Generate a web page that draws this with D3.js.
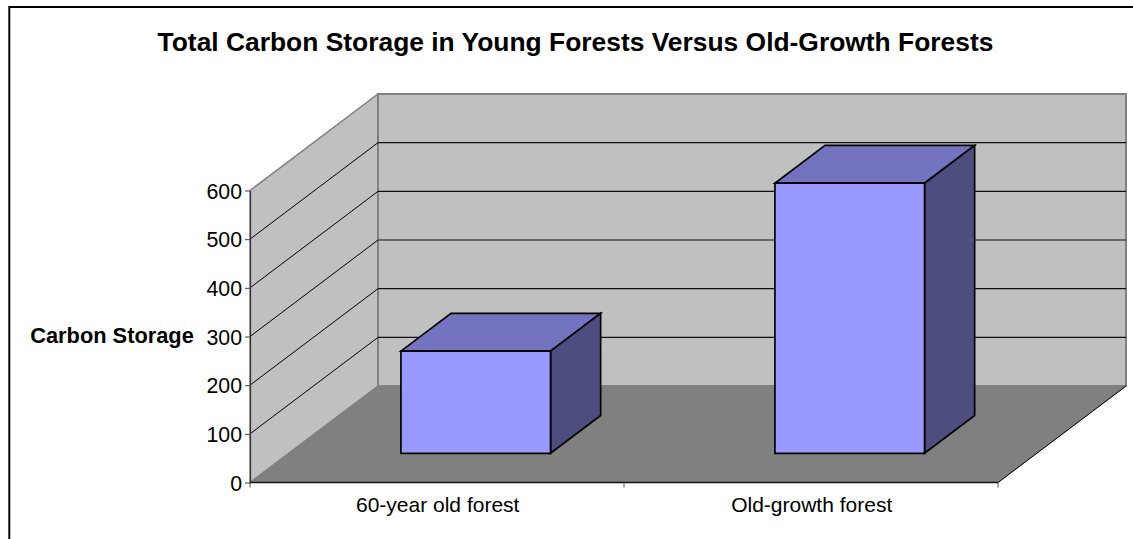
<!DOCTYPE html>
<html>
<head>
<meta charset="utf-8">
<script src="https://cdn.jsdelivr.net/npm/d3@7"></script>
<style>
html, body { margin: 0; padding: 0; background: #fff; overflow: hidden; }
text { font-family: "Liberation Sans", Arial, sans-serif; fill: #000; }
</style>
</head>
<body>
<script>
var categories = ["60-year old forest", "Old-growth forest"];
var values = [210, 555];
var yTicks = [0, 100, 200, 300, 400, 500, 600];
var chartTitle = "Total Carbon Storage in Young Forests Versus Old-Growth Forests";
var yTitle = "Carbon Storage";

var w = 1133, h = 539;
var svg = d3.select("body").append("svg")
	.attr("width", w)
	.attr("height", h)
	.style("display", "block");

// front plane of the 3d box, the depth is added on top of it
var x0 = 250, x1 = 998, y0 = 482.5, y1 = 190.5;
var dx = 128, dy = -96.5;

var x = d3.scaleBand().domain(categories).range([x0, x1]).paddingInner(0.6).paddingOuter(0.3);
var y = d3.scaleLinear().domain([0, 600]).range([y0, y1]);
var depth = d3.scaleLinear().domain([0, 1]).range([0, 1]);

function pt(px, py, z) {
	return [px + depth(z) * dx, py + depth(z) * dy];
}
function poly(points, fill, stroke, sw) {
	svg.append("path")
		.attr("d", d3.line()(points) + "Z")
		.attr("fill", fill)
		.attr("stroke", stroke)
		.attr("stroke-width", sw)
		.attr("stroke-linejoin", "miter");
}
function seg(points, stroke, sw) {
	svg.append("path")
		.attr("d", d3.line()(points))
		.attr("fill", "none")
		.attr("stroke", stroke)
		.attr("stroke-width", sw);
}

// outer frame
svg.append("rect")
	.attr("x", 9.3).attr("y", 7)
	.attr("width", 1140).attr("height", 560)
	.attr("fill", "#fff").attr("stroke", "#000").attr("stroke-width", 2);

svg.append("text")
	.attr("x", 575.5).attr("y", 51)
	.attr("text-anchor", "middle")
	.attr("font-size", 26.4).attr("font-weight", "bold")
	.text(chartTitle);

// walls and floor
poly([pt(x0, y0, 0), pt(x0, y1, 0), pt(x0, y1, 1), pt(x0, y0, 1)], "#c0c0c0", "#808080", 1.5);
poly([pt(x0, y0, 1), pt(x0, y1, 1), pt(x1, y1, 1), pt(x1, y0, 1)], "#c0c0c0", "#808080", 2);
poly([pt(x0, y0, 0), pt(x0, y0, 1), pt(x1, y0, 1), pt(x1, y0, 0)], "#808080", "#808080", 1);

// gridlines, the top one is the wall edge
yTicks.slice(1, -1).forEach(function(t) {
	seg([pt(x0, y(t), 0), pt(x0, y(t), 1)], "#000", 1);
	seg([pt(x0, y(t), 1), pt(x1, y(t), 1)], "#111", 1.2);
});

// floor edge on the right side
seg([pt(x1, y0, 0), pt(x1, y0, 1)], "#000", 1);

// axes
var yAxis = d3.axisLeft(y).tickValues(yTicks).tickSize(5).tickSizeOuter(0).tickPadding(3);
var gy = svg.append("g").attr("transform", "translate(" + x0 + ",0)").call(yAxis);
gy.selectAll("text").attr("font-size", 21.3).attr("dy", "0.36em").style("font-family", "'Liberation Sans', Arial, sans-serif");
gy.selectAll("line").attr("stroke", "#444");
gy.select(".domain").attr("stroke", "#333").attr("stroke-width", 1.2);

var xAxisLine = svg.append("g");
xAxisLine.append("line").attr("x1", x0).attr("x2", x1).attr("y1", y0).attr("y2", y0).attr("stroke", "#111").attr("stroke-width", 1.4);
[x0, (x0 + x1) / 2, x1].forEach(function(t) {
	xAxisLine.append("line").attr("x1", t).attr("x2", t).attr("y1", y0).attr("y2", y0 + 5).attr("stroke", "#555");
});

svg.selectAll(".cat")
	.data(categories)
	.enter().append("text")
	.attr("class", "cat")
	.attr("x", function(d) { return x(d) + x.bandwidth() / 2 + 0.7; })
	.attr("y", 512)
	.attr("text-anchor", "middle")
	.attr("font-size", 21)
	.text(function(d) { return d; });

svg.append("text")
	.attr("x", 112).attr("y", 343)
	.attr("text-anchor", "middle")
	.attr("font-size", 21.8).attr("font-weight", "bold")
	.text(yTitle);

// bars, front / top / side
var zFront = 0.3026, zBack = 0.694;
categories.forEach(function(c, i) {
	var l = x(c), r = l + x.bandwidth(), t = y(values[i]);
	poly([pt(l, t, zFront), pt(l, t, zBack), pt(r, t, zBack), pt(r, t, zFront)], "#7373bf", "#000", 1.7);
	poly([pt(r, y0, zFront), pt(r, t, zFront), pt(r, t, zBack), pt(r, y0, zBack)], "#4d4d80", "#000", 1.7);
	poly([pt(l, y0, zFront), pt(l, t, zFront), pt(r, t, zFront), pt(r, y0, zFront)], "#9999ff", "#000", 1.7);
});
</script>
</body>
</html>
